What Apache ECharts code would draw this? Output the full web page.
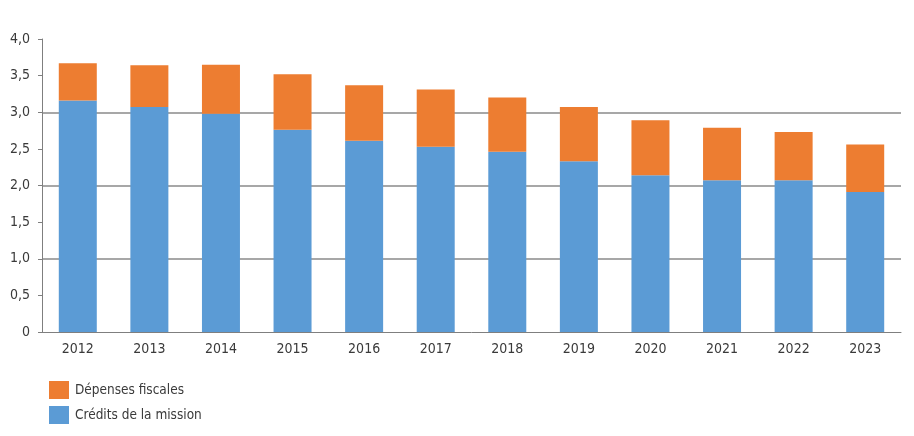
<!DOCTYPE html>
<html>
<head>
<meta charset="utf-8">
<style>html,body{margin:0;padding:0;background:#fff;}#chart{width:914px;height:436px;}</style>
<script src="https://cdn.jsdelivr.net/npm/echarts@6/dist/echarts.min.js"></script>
</head>
<body>
<div id="chart"></div>
<script>
var categories = ['2012','2013','2014','2015','2016','2017','2018','2019','2020','2021','2022','2023'];
var creditsMission = [3.16, 3.07, 2.98, 2.76, 2.61, 2.53, 2.46, 2.33, 2.14, 2.07, 2.07, 1.91];
var depensesFiscales = [0.51, 0.57, 0.67, 0.76, 0.76, 0.78, 0.74, 0.74, 0.75, 0.72, 0.66, 0.65];
var seriesNames = ['Crédits de la mission', 'Dépenses fiscales'];
var legendOrder = ['Dépenses fiscales', 'Crédits de la mission'];

var FONT = '"DejaVu Sans Condensed", "Open Sans", sans-serif';
var chart = echarts.init(document.getElementById('chart'));
chart.setOption({
  animation: false,
  textStyle: { fontFamily: FONT },
  legend: {
    data: legendOrder,
    orient: 'vertical',
    left: 44,
    top: 376,
    itemWidth: 20,
    itemHeight: 18,
    itemGap: 7,
    icon: 'rect',
    textStyle: { fontFamily: FONT, fontSize: 13.5, color: '#3a3a3a', padding: [0, 0, 0, 1] }
  },
  grid: { left: 42, right: 13, top: 39, bottom: 104, containLabel: false },
  xAxis: {
    type: 'category',
    data: categories,
    axisLine: { lineStyle: { color: '#7f7f7f', width: 1 } },
    axisTick: { show: false },
    axisLabel: { fontFamily: FONT, fontSize: 14, color: '#3a3a3a', margin: 10 }
  },
  yAxis: {
    type: 'value',
    min: 0, max: 4, interval: 0.5,
    axisLine: { show: true, lineStyle: { color: '#7f7f7f' } },
    axisTick: { show: true, length: 4, lineStyle: { color: '#7f7f7f' } },
    axisLabel: {
      fontFamily: FONT, fontSize: 14, color: '#3a3a3a', margin: 12,
      formatter: function (v) { return v === 0 ? '0' : v.toFixed(1).replace('.', ','); }
    },
    splitLine: {
      show: true,
      lineStyle: {
        width: 1.5,
        color: ['rgba(0,0,0,0)','rgba(0,0,0,0)','#8a8a8a','rgba(0,0,0,0)','#8a8a8a','rgba(0,0,0,0)','#8a8a8a','rgba(0,0,0,0)','rgba(0,0,0,0)']
      }
    }
  },
  series: [
    {
      name: seriesNames[0], type: 'bar', stack: 'total', data: creditsMission,
      barWidth: 38, itemStyle: { color: '#5B9BD5' }
    },
    {
      name: seriesNames[1], type: 'bar', stack: 'total', data: depensesFiscales,
      barWidth: 38, itemStyle: { color: '#ED7D31' }
    }
  ]
});
</script>
</body>
</html>
